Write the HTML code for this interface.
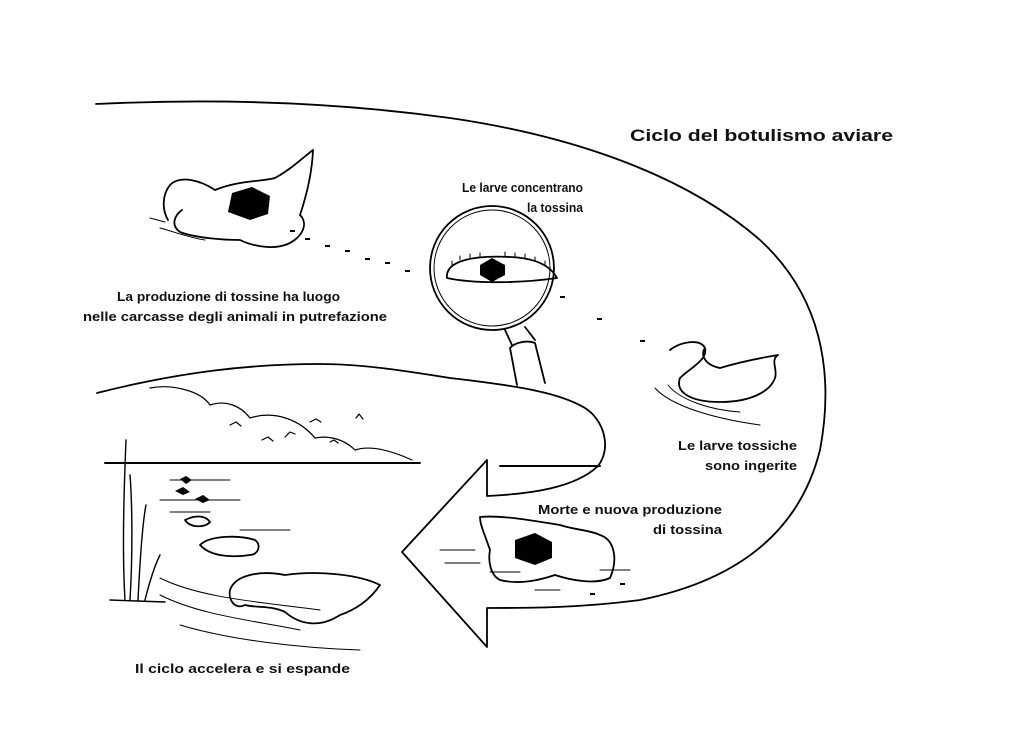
<!DOCTYPE html>
<html><head><meta charset="utf-8"><style>
html,body{margin:0;padding:0;background:#fff;width:1024px;height:740px;overflow:hidden}
svg{display:block}
text{font-family:"Liberation Sans",Arial,sans-serif;font-weight:bold;fill:#111}
</style></head><body>
<svg width="1024" height="740" viewBox="0 0 1024 740" xmlns="http://www.w3.org/2000/svg">
<g fill="none" stroke="#000" stroke-width="1.8" stroke-linecap="round" stroke-linejoin="round">
<path d="M96,104 C200,99 320,100 450,118 C560,134 680,170 760,240 C820,295 835,370 820,450 C800,530 740,580 640,600 C580,608 530,608 487,608 L487,647 L402,552 L487,460 L487,496 C530,494 575,488 598,466 C612,448 604,420 585,408 C560,393 520,386 450,378 C400,370 360,364 320,364 C250,364 180,372 97,393"/>
<circle cx="492" cy="268" r="62"/>
<circle cx="492" cy="268" r="58" stroke-width="1"/>
<path d="M505,330 L512,345 M525,327 L535,340 M510,348 C515,342 528,340 535,343 M510,348 L517,385 M535,343 L545,383"/>
<path d="M447,278 C445,262 470,255 510,257 C535,258 550,265 557,278 C530,282 480,285 447,278 Z"/>
<path d="M452,265 L452,261 M460,260 L460,256 M470,258 L470,254 M480,257 L480,253 M505,256 L505,252 M515,257 L515,253 M525,258 L525,254 M535,261 L535,257 M545,265 L545,261" stroke-width="1"/>
<path d="M215,190 C200,180 180,175 170,185 C162,195 162,210 168,220 M215,190 C240,180 260,182 275,178 C290,170 300,160 313,150 C312,175 305,200 300,215 C310,225 300,240 285,245 C270,250 250,245 240,240 C225,240 195,238 180,232 C170,225 175,215 182,210"/>
<path d="M160,228 C175,232 190,238 205,240 M150,218 L165,222" stroke-width="1"/>
<path d="M480,517 C500,515 530,520 560,525 C575,530 590,530 600,535 C615,540 618,560 610,578 C595,585 570,580 555,575 C540,580 520,585 500,580 C490,575 488,560 490,550 C485,535 480,525 480,517 Z"/>
<path d="M440,550 L475,550 M445,563 L480,563 M490,572 L520,572 M535,590 L560,590 M600,570 L630,570" stroke-width="1"/>
<path d="M670,350 C680,342 700,338 705,348 C708,360 690,368 680,378 C675,392 690,402 720,402 C750,402 770,392 775,378 C778,370 770,360 778,355 C760,358 740,362 720,368 C705,365 700,355 705,348"/>
<path d="M668,385 C680,400 710,410 740,412 M655,388 C670,405 710,418 760,425" stroke-width="1"/>
<path d="M105,463 L420,463 M500,466 L600,466" stroke-width="2"/>
<path d="M150,388 C170,384 200,390 210,405 C225,400 240,405 250,418 C275,410 300,420 315,438 C330,435 345,440 355,450 C370,445 390,450 412,460" stroke-width="1.2"/>
<path d="M230,425 l6,-3 l5,4 M262,440 l6,-3 l5,4 M285,437 l5,-5 l5,2 M310,422 l6,-3 l5,3 M356,418 l3,-4 l4,5 M330,442 l4,-2 l4,3" stroke-width="1.2"/>
<path d="M125,600 C122,550 124,490 126,440 M130,600 C133,550 132,500 130,475 M138,600 C140,560 143,520 146,505 M145,600 C150,580 155,565 160,555 M110,600 L165,602" stroke-width="1.4"/>
<path d="M185,520 C195,515 205,515 210,522 C205,528 190,528 185,520 Z M200,545 C210,535 240,535 255,540 C262,545 258,555 250,555 C230,558 210,556 200,545 Z"/>
<path d="M230,590 C235,575 260,570 285,575 C320,570 360,575 380,585 C370,600 355,610 340,615 C320,628 300,625 285,612 C270,605 255,608 245,605 C235,610 228,600 230,590 Z"/>
<path d="M160,578 C200,598 260,602 320,610 M160,595 C200,615 250,620 300,630 M180,625 C230,640 300,648 360,650" stroke-width="1"/>
<path d="M170,480 L230,480 M160,500 L240,500 M170,512 L210,512 M240,530 L290,530" stroke-width="1"/>
</g>
<g fill="#000">
<polygon points="232,193 252,187 270,196 268,214 250,220 228,212"/>
<polygon points="480,265 492,258 505,265 505,275 492,282 480,275"/>
<polygon points="515,540 535,533 552,542 552,558 535,565 515,558"/>
<polygon points="180,479 186,476 192,480 186,484"/>
<polygon points="175,491 183,487 190,492 183,495"/>
<polygon points="195,499 203,495 210,500 203,503"/>
</g>
<g fill="#000">
<rect x="290" y="230" width="5" height="2"/><rect x="305" y="238" width="5" height="2"/><rect x="325" y="245" width="5" height="2"/>
<rect x="345" y="250" width="5" height="2"/><rect x="365" y="258" width="5" height="2"/><rect x="385" y="262" width="5" height="2"/>
<rect x="405" y="270" width="5" height="2"/><rect x="560" y="296" width="5" height="2"/><rect x="597" y="318" width="5" height="2"/>
<rect x="640" y="340" width="5" height="2"/><rect x="590" y="593" width="5" height="2"/><rect x="620" y="583" width="5" height="2"/>
</g>
<text x="630" y="141" font-size="17" textLength="263" lengthAdjust="spacingAndGlyphs">Ciclo del botulismo aviare</text>
<g font-size="13">
<text x="462" y="192" textLength="121" lengthAdjust="spacingAndGlyphs">Le larve concentrano</text>
<text x="527" y="212" textLength="56" lengthAdjust="spacingAndGlyphs">la tossina</text>
<text x="117" y="301" textLength="223" lengthAdjust="spacingAndGlyphs">La produzione di tossine ha luogo</text>
<text x="83" y="321" textLength="304" lengthAdjust="spacingAndGlyphs">nelle carcasse degli animali in putrefazione</text>
<text x="678" y="450" textLength="119" lengthAdjust="spacingAndGlyphs">Le larve tossiche</text>
<text x="705" y="470" textLength="92" lengthAdjust="spacingAndGlyphs">sono ingerite</text>
<text x="538" y="514" textLength="184" lengthAdjust="spacingAndGlyphs">Morte e nuova produzione</text>
<text x="653" y="534" textLength="69" lengthAdjust="spacingAndGlyphs">di tossina</text>
<text x="135" y="673" textLength="215" lengthAdjust="spacingAndGlyphs">Il ciclo accelera e si espande</text>
</g>
</svg>
</body></html>
